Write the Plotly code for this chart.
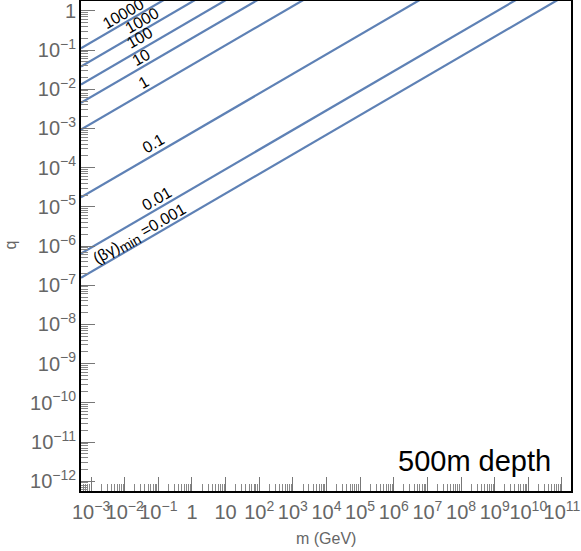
import numpy as np
import plotly.graph_objects as go

# (beta gamma)_min values, one line each
bg_min = ["10000", "1000", "100", "10", "1", "0.1", "0.01", "0.001"]

# end points of every line: mass (GeV) at left / right, and q there
m_ends = [5.0e-4, 2.0e11]
q_left = [0.111, 3.8e-2, 1.32e-2, 4.47e-3, 9.33e-4, 1.74e-5, 6.46e-7, 1.55e-7]
q_right = [2.2e6, 7.6e5, 2.63e5, 8.9e4, 1.86e4, 347, 12.9, 3.09]

# where each line label sits (m, q)
label_m = [9.2e-3, 3.2e-2, 2.8e-2, 3.0e-2, 3.5e-2, 6.9e-2, 9.1e-2, 2.8e-2]
label_q = [0.84, 0.575, 0.214, 6.6e-2, 1.51e-2, 4.2e-4, 1.66e-5, 1.9e-6]

line_color = "#5E81B5"
grey = "#666666"
font_fam = "Liberation Sans, Arial, sans-serif"

fig = go.Figure()

for i, name in enumerate(bg_min):
    fig.add_trace(go.Scatter(
        x=m_ends, y=[q_left[i], q_right[i]],
        mode="lines",
        line=dict(color=line_color, width=2.2),
        name=name,
        hoverinfo="skip",
    ))
    if name == "0.001":
        txt = "(βγ)<sub><span style='font-size:14px'>min</span></sub> =" + name
    else:
        txt = name
    fig.add_annotation(
        x=np.log10(label_m[i]), y=np.log10(label_q[i]),
        xref="x", yref="y", text=txt, showarrow=False,
        xanchor="center", yanchor="middle",
        textangle=-30, font=dict(size=16, color="black", family=font_fam),
    )

# axis titles and the depth tag
fig.add_annotation(x=-0.144, y=0.502, xref="paper", yref="paper", text="q",
                   showarrow=False, textangle=-90, xanchor="center", yanchor="middle",
                   font=dict(size=16, color=grey, family=font_fam))
fig.add_annotation(x=0.5, y=-0.096, xref="paper", yref="paper", text="m (GeV)",
                   showarrow=False, xanchor="center", yanchor="middle",
                   font=dict(size=16, color=grey, family=font_fam))
fig.add_annotation(x=0.963, y=0.061, xref="paper", yref="paper", text="500m depth",
                   showarrow=False, xanchor="right", yanchor="middle",
                   font=dict(size=29, color="black", family=font_fam))

axis_style = dict(
    type="log", dtick=1, exponentformat="power", tickangle=0, automargin=False,
    showgrid=False, zeroline=False,
    showline=True, mirror=True, linecolor="black", linewidth=1.5,
    ticks="inside", ticklen=14, tickwidth=1.2, tickcolor="#777777",
    minor=dict(ticks="inside", ticklen=7, tickwidth=1, tickcolor="#888888", dtick="D1"),
    tickfont=dict(size=16, color=grey, family=font_fam),
)

fig.update_layout(
    width=581, height=551,
    margin=dict(l=81, r=10, t=1, b=60),
    plot_bgcolor="white", paper_bgcolor="white",
    showlegend=False,
    xaxis=dict(range=[-3.3, 11.27], ticklabelstandoff=3, **axis_style),
    yaxis=dict(range=[-12.25, 0.25], **axis_style),
)

# drop the page's default body margin so the figure starts at the corner
fig.write_html("out.html", config={"displayModeBar": False},
               post_script="document.body.style.margin='0';")
